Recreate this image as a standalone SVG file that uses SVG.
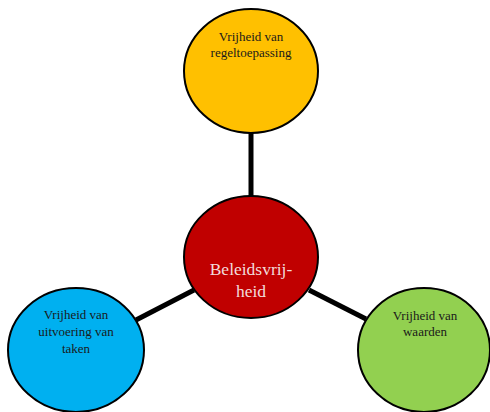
<svg xmlns="http://www.w3.org/2000/svg" width="490" height="412" viewBox="0 0 490 412">
<style>
.n{stroke:#000;stroke-width:2}
.t{font-family:"Liberation Serif",serif;font-size:13px;fill:#1a1a1a;text-anchor:middle}
.c{font-family:"Liberation Serif",serif;font-size:17.5px;fill:#f2dcdb;text-anchor:middle}
.e{stroke:#000;stroke-width:5;fill:none}
</style>
<rect width="490" height="412" fill="#fff"/>
<g id="connectors">
<line class="e" x1="251" y1="133" x2="251" y2="197"/>
<line class="e" x1="136" y1="320" x2="194" y2="290"/>
<line class="e" x1="309" y1="290" x2="366" y2="319"/>
</g>
<g id="top">
<ellipse class="n" cx="251" cy="71" rx="67" ry="62" fill="#FFC000"/>
<text class="t" x="251" y="41">Vrijheid van</text>
<text class="t" x="251" y="57">regeltoepassing</text>
</g>
<g id="center">
<ellipse class="n" cx="251" cy="257" rx="67" ry="61" fill="#C00000"/>
<text class="c" x="251" y="275">Beleidsvrij-</text>
<text class="c" x="251" y="297">heid</text>
</g>
<g id="left">
<ellipse class="n" cx="76" cy="350" rx="68" ry="62" fill="#00B0F0"/>
<text class="t" x="76" y="319">Vrijheid van</text>
<text class="t" x="76" y="336">uitvoering van</text>
<text class="t" x="76" y="353">taken</text>
</g>
<g id="right">
<ellipse class="n" cx="424" cy="350" rx="66" ry="62" fill="#92D050"/>
<text class="t" x="425" y="320">Vrijheid van</text>
<text class="t" x="425" y="336">waarden</text>
</g>
</svg>
